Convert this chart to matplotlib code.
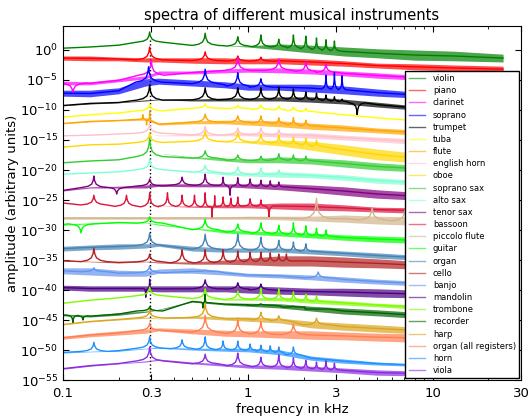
import numpy as np
import matplotlib
matplotlib.use("Agg")
import matplotlib.pyplot as plt
from matplotlib.ticker import NullLocator, NullFormatter

freq = [0.1, 0.14, 0.2, 0.28, 0.33, 0.5, 0.75, 1.0, 1.5, 2.2, 3.3, 5.0, 8.0, 13.0, 24.0]
fundamental = 0.2937  # D4

# log10 amplitude: lower edge (lo) / upper edge (hi) of each trace,
# pk = narrow peaks and dips as (kHz, log10 amplitude)
violin_lo = [0.3, 0.5, 0.8, 1.3, 1.3, 0.8, 0.7, 0.5, 0.0, -0.5, -1.0, -1.3, -1.7, -1.8, -2.0]
violin_hi = [0.3, 0.5, 0.8, 1.3, 1.3, 0.8, 0.7, 0.7, 1.0, 0.8, 0.5, 0.2, 0.0, -0.2, -0.7]
violin_pk = [(0.294, 3.0), (0.587, 2.8), (0.881, 2.2), (1.175, 2.5), (1.468, 1.8), (1.762, 2.5),
             (2.056, 2.3), (2.349, 2.0), (2.643, 1.7), (2.937, 1.5)]

piano_lo = [-1.7, -1.8, -1.8, -2.0, -2.0, -2.2, -2.3, -2.3, -2.3, -2.5, -2.7, -3.0, -3.3, -3.5, -3.7]
piano_hi = [-1.0, -1.0, -1.2, -1.3, -1.3, -1.3, -1.3, -1.5, -1.3, -1.5, -1.8, -2.2, -2.3, -2.5, -2.7]
piano_pk = [(0.294, 0.5), (0.587, -0.3), (0.881, -1.0), (1.175, -1.2)]

clarinet_lo = [-5.8, -5.8, -5.3, -4.8, -4.0, -4.0, -3.8, -3.7, -3.8, -4.0, -4.3, -4.7, -5.0, -5.3, -5.7]
clarinet_hi = [-5.2, -5.3, -4.8, -4.3, -3.5, -3.5, -3.2, -3.0, -3.0, -3.2, -3.5, -3.8, -4.2, -4.5, -4.8]
clarinet_pk = [(0.113, -7.2), (0.30, -1.7), (0.881, -1.3), (1.468, -1.5), (2.056, -2.0), (2.643, -2.3)]

soprano_lo = [-7.7, -7.8, -7.3, -6.0, -5.7, -6.0, -6.3, -6.7, -6.7, -7.0, -7.3, -7.7, -8.0, -8.3, -8.7]
soprano_hi = [-6.7, -6.7, -6.3, -4.8, -4.7, -5.0, -5.3, -5.7, -5.7, -5.7, -6.0, -6.5, -7.0, -7.3, -7.7]
soprano_pk = [(0.29, -2.8), (0.587, -3.2), (0.881, -3.8), (1.175, -4.8), (2.643, -4.2), (2.937, -3.8),
              (3.23, -4.3)]

trumpet_lo = [-9.3, -9.0, -8.8, -8.5, -8.3, -8.5, -8.5, -8.5, -8.5, -8.7, -9.0, -9.5, -10.0, -10.3, -10.7]
trumpet_hi = [-9.2, -8.8, -8.7, -8.3, -8.2, -8.2, -8.0, -8.0, -7.8, -7.8, -8.2, -8.7, -9.3, -9.7, -10.0]
trumpet_pk = [(0.294, -5.8), (0.587, -6.3), (0.881, -6.3), (1.175, -6.3), (1.468, -6.2), (1.762, -6.5),
              (2.056, -7.0), (2.349, -7.2), (2.643, -7.5), (2.937, -7.8), (3.23, -8.2), (3.9, -10.8)]

tuba_lo = [-11.2, -10.8, -10.5, -10.2, -10.0, -9.7, -9.7, -9.8, -10.0, -10.3, -10.8, -11.3, -11.8, -12.2, -12.5]
tuba_hi = tuba_lo
tuba_pk = [(0.294, -9.0), (0.587, -9.0), (0.881, -9.2), (1.175, -9.2), (1.468, -9.3), (1.762, -9.5),
           (2.056, -9.7)]

flute_lo = [-12.3, -12.0, -11.8, -11.7, -12.5, -12.3, -12.3, -12.5, -12.8, -13.2, -13.5, -13.8, -14.2, -14.5, -14.8]
flute_hi = [-12.2, -11.8, -11.7, -11.3, -12.2, -11.8, -11.7, -11.7, -11.8, -12.2, -12.5, -13.0, -13.3, -13.7, -14.0]
flute_pk = [(0.27, -10.8), (0.283, -12.5), (0.294, -10.2), (0.587, -10.7), (0.881, -11.0), (1.175, -11.0),
            (1.468, -11.3), (1.762, -11.3), (2.056, -11.7)]

ehorn_lo = [-14.3, -14.2, -14.0, -13.7, -14.3, -14.3, -14.3, -14.3, -14.5, -14.7, -15.0, -15.3, -15.7, -16.0, -16.3]
ehorn_hi = [-14.3, -14.2, -14.0, -13.7, -14.2, -14.0, -14.0, -13.8, -13.8, -13.8, -14.2, -14.5, -14.8, -15.2, -15.5]
ehorn_pk = [(0.294, -12.3), (0.587, -12.7), (0.881, -13.0), (1.175, -13.0), (1.468, -13.3)]

oboe_lo = [-16.2, -15.8, -15.7, -15.5, -15.2, -15.2, -15.3, -15.5, -16.0, -16.7, -17.5, -18.3, -18.8, -19.2, -19.5]
oboe_hi = [-16.2, -15.8, -15.7, -15.5, -15.2, -15.2, -15.2, -15.2, -15.0, -15.2, -15.8, -16.5, -17.2, -17.5, -17.8]
oboe_pk = [(0.294, -13.8), (0.587, -13.5), (0.881, -13.7), (1.175, -14.0), (1.468, -14.2), (1.762, -14.5),
           (2.056, -14.7), (2.349, -15.0)]

ssax_lo = [-18.8, -18.5, -18.3, -18.0, -17.2, -18.0, -18.5, -18.8, -18.8, -19.0, -19.5, -20.0, -20.3, -20.7, -21.0]
ssax_hi = [-18.8, -18.5, -18.3, -18.0, -17.2, -17.8, -18.0, -18.2, -17.8, -18.0, -18.3, -18.8, -19.2, -19.5, -19.8]
ssax_pk = [(0.294, -14.7), (0.587, -16.8), (0.881, -17.5), (1.175, -17.7), (1.468, -17.3), (1.762, -17.5),
           (2.056, -17.7)]

asax_lo = [-20.7, -20.5, -20.3, -20.0, -19.8, -20.3, -20.8, -21.0, -21.2, -21.3, -21.7, -22.2, -22.5, -22.8, -23.2]
asax_hi = [-20.7, -20.5, -20.3, -20.0, -19.8, -20.2, -20.3, -20.5, -20.3, -20.5, -20.8, -21.3, -21.7, -22.0, -22.3]
asax_pk = [(0.294, -18.2), (0.587, -19.2), (0.881, -19.5), (1.175, -19.7), (1.468, -20.0)]

tsax_lo = [-23.5, -23.0, -23.0, -23.0, -22.7, -22.8, -22.8, -23.0, -23.3, -23.7, -24.2, -24.7, -25.0, -25.3, -25.7]
tsax_hi = [-23.3, -22.8, -22.7, -22.5, -22.3, -22.3, -22.3, -22.3, -22.3, -22.5, -22.8, -23.3, -23.7, -24.0, -24.3]
tsax_pk = [(0.1468, -21.0), (0.195, -24.0), (0.294, -21.5), (0.4405, -21.2), (0.587, -20.7), (0.734, -21.2),
           (0.80, -24.2), (0.881, -21.3), (1.028, -21.5), (1.175, -21.7), (1.321, -21.8), (1.468, -22.0)]

bassoon_lo = [-25.5, -25.8, -26.0, -26.2, -26.0, -26.2, -26.3, -26.3, -26.5, -26.7, -26.8, -27.0, -27.2, -27.2, -27.3]
bassoon_hi = [-25.5, -25.8, -26.0, -26.2, -26.0, -26.0, -25.8, -25.7, -25.5, -25.5, -25.8, -26.2, -26.3, -26.5, -26.7]
bassoon_pk = [(0.1468, -24.2), (0.2203, -24.2), (0.294, -23.8), (0.367, -23.8), (0.4405, -24.2), (0.514, -24.2),
              (0.587, -23.8), (0.64, -28.0), (0.661, -24.3), (0.734, -24.5), (0.808, -24.7), (0.881, -24.5),
              (1.028, -24.8), (1.175, -25.0), (1.30, -27.8)]

piccolo_lo = [-28.2, -28.2, -28.2, -28.2, -28.2, -28.2, -28.2, -28.2, -28.3, -28.5, -28.7, -29.0, -29.2, -29.3, -29.5]
piccolo_hi = [-27.8, -27.8, -27.8, -27.8, -27.8, -27.8, -27.8, -27.7, -27.7, -27.7, -27.5, -27.7, -27.8, -28.0, -28.2]
piccolo_pk = [(2.349, -24.7), (4.698, -26.2), (7.05, -26.7)]

guitar_lo = [-29.2, -29.0, -28.8, -28.8, -29.2, -29.8, -30.5, -30.7, -31.0, -31.3, -31.7, -32.0, -32.2, -32.3, -32.5]
guitar_hi = [-29.0, -28.8, -28.7, -28.7, -29.0, -29.7, -30.0, -30.2, -30.3, -30.5, -30.8, -31.0, -31.2, -31.3, -31.5]
guitar_pk = [(0.125, -30.5), (0.294, -27.8), (0.587, -28.2), (0.881, -29.0), (1.175, -28.8), (1.468, -29.2),
             (1.762, -28.8), (2.056, -29.3), (2.349, -29.7), (2.643, -30.0)]

organ_lo = [-33.5, -33.3, -33.2, -33.0, -32.7, -33.5, -33.7, -33.7, -33.7, -34.0, -34.3, -34.7, -35.0, -35.2, -35.3]
organ_hi = [-32.7, -32.5, -32.3, -32.3, -32.2, -32.7, -33.0, -33.0, -33.0, -33.2, -33.5, -33.8, -34.2, -34.3, -34.5]
organ_pk = [(0.294, -30.5), (0.587, -30.7), (0.881, -30.7), (1.175, -31.2), (1.468, -31.7), (1.762, -32.0),
            (2.056, -32.3)]

cello_lo = [-35.2, -35.3, -35.5, -35.3, -35.5, -35.7, -35.7, -35.8, -36.0, -36.0, -36.2, -36.3, -36.5, -36.7, -36.8]
cello_hi = [-35.0, -35.2, -35.3, -35.2, -35.3, -35.3, -35.0, -34.7, -34.3, -34.3, -34.5, -34.8, -35.2, -35.3, -35.5]
cello_pk = [(0.1468, -33.0), (0.294, -34.0), (0.4405, -33.3), (0.587, -33.3), (0.734, -33.3), (0.881, -33.5),
            (1.028, -33.7), (1.175, -33.7), (1.321, -33.8), (1.468, -34.0), (1.615, -34.0)]

banjo_lo = [-37.3, -37.5, -37.7, -37.7, -37.2, -37.2, -37.5, -37.8, -38.0, -38.3, -38.7, -39.0, -39.3, -39.5, -39.7]
banjo_hi = [-36.3, -36.3, -36.7, -36.8, -36.5, -36.3, -36.8, -37.2, -37.3, -37.5, -37.8, -38.2, -38.5, -38.7, -38.8]
banjo_pk = [(0.1468, -36.3), (0.294, -36.0), (0.587, -36.7), (2.4, -37.0)]

mandolin_lo = [-40.0, -40.2, -40.2, -40.2, -40.3, -40.3, -40.3, -40.5, -40.7, -40.8, -41.0, -41.2, -41.3, -41.5, -41.7]
mandolin_hi = [-39.2, -39.3, -39.3, -39.3, -39.3, -39.3, -39.3, -39.3, -39.5, -39.7, -39.7, -39.8, -40.0, -40.2, -40.3]
mandolin_pk = [(0.28, -41.2), (0.294, -38.2), (0.587, -38.3), (0.881, -38.8), (1.175, -39.0)]

trombone_lo = [-42.2, -41.7, -41.3, -41.0, -40.8, -41.3, -41.7, -41.7, -41.8, -42.2, -42.5, -42.8, -43.2, -43.5, -43.7]
trombone_hi = [-42.2, -41.7, -41.3, -41.0, -40.8, -41.3, -41.5, -41.3, -41.2, -41.5, -41.8, -42.2, -42.5, -42.8, -43.0]
trombone_pk = [(0.294, -39.5), (0.587, -39.8), (0.881, -40.2), (1.175, -39.7), (1.468, -39.8), (1.762, -40.3),
               (2.056, -40.7), (2.349, -41.0)]

recorder_lo = [-44.3, -44.5, -44.2, -43.7, -43.3, -42.0, -42.5, -42.7, -43.0, -43.5, -44.0, -44.3, -44.7, -45.0, -45.3]
recorder_hi = [-44.0, -44.2, -43.8, -43.5, -43.2, -41.8, -42.2, -42.2, -42.3, -42.7, -43.0, -43.3, -43.7, -44.0, -44.3]
recorder_pk = [(0.113, -45.5), (0.128, -45.0), (0.294, -42.8), (0.57, -43.0), (0.587, -40.7), (1.175, -42.3),
               (1.762, -42.7), (2.349, -43.2)]

harp_lo = [-45.8, -45.3, -45.0, -44.7, -44.8, -44.7, -45.0, -45.2, -45.5, -46.3, -46.7, -47.0, -47.3, -47.5, -47.7]
harp_hi = [-45.7, -45.2, -44.8, -44.5, -44.7, -44.3, -44.5, -44.5, -44.7, -45.2, -45.5, -45.8, -46.2, -46.3, -46.5]
harp_pk = [(0.294, -43.3), (0.587, -42.2), (0.881, -44.7), (1.175, -43.7), (1.468, -44.3), (2.349, -44.7)]

organall_lo = [-48.2, -47.8, -47.5, -47.2, -46.8, -47.3, -47.7, -47.8, -48.0, -48.2, -48.3, -48.5, -48.7, -48.8, -49.0]
organall_hi = [-47.7, -47.2, -46.8, -46.5, -46.3, -46.5, -46.7, -46.8, -46.8, -46.8, -47.0, -47.2, -47.3, -47.5, -47.7]
organall_pk = [(0.294, -45.5), (0.587, -44.2), (0.881, -45.0), (1.175, -45.3), (1.762, -45.7)]

horn_lo = [-50.5, -50.3, -50.2, -49.8, -49.7, -50.0, -50.2, -50.3, -50.8, -51.7, -52.2, -52.5, -52.7, -52.8, -53.0]
horn_hi = [-50.3, -50.2, -50.0, -49.7, -49.5, -49.7, -49.7, -49.7, -50.0, -51.0, -51.5, -52.0, -52.3, -52.5, -52.7]
horn_pk = [(0.1468, -48.7), (0.294, -47.8), (0.4405, -48.3), (0.587, -47.8), (0.734, -48.5), (0.881, -48.5),
           (1.028, -49.0), (1.175, -49.2), (1.321, -49.3), (1.468, -49.5), (1.762, -49.5)]

viola_lo = [-53.2, -52.7, -52.3, -52.0, -51.7, -52.3, -52.7, -53.0, -53.2, -53.5, -53.8, -54.2, -54.3, -54.5, -54.7]
viola_hi = [-53.0, -52.5, -52.2, -51.8, -51.5, -52.0, -52.3, -52.5, -52.5, -52.7, -53.0, -53.3, -53.5, -53.7, -53.8]
viola_pk = [(0.294, -49.5), (0.587, -50.7), (0.881, -50.5), (1.175, -51.2), (1.468, -50.8), (1.762, -51.3),
            (2.056, -51.7), (2.349, -52.0), (2.643, -51.8), (2.937, -52.2)]

traces = [
    ("violin", "green", violin_lo, violin_hi, violin_pk),
    ("piano", "red", piano_lo, piano_hi, piano_pk),
    ("clarinet", "magenta", clarinet_lo, clarinet_hi, clarinet_pk),
    ("soprano", "blue", soprano_lo, soprano_hi, soprano_pk),
    ("trumpet", "black", trumpet_lo, trumpet_hi, trumpet_pk),
    ("tuba", "yellow", tuba_lo, tuba_hi, tuba_pk),
    ("flute", "orange", flute_lo, flute_hi, flute_pk),
    ("english horn", "pink", ehorn_lo, ehorn_hi, ehorn_pk),
    ("oboe", "gold", oboe_lo, oboe_hi, oboe_pk),
    ("soprano sax", "limegreen", ssax_lo, ssax_hi, ssax_pk),
    ("alto sax", "aquamarine", asax_lo, asax_hi, asax_pk),
    ("tenor sax", "purple", tsax_lo, tsax_hi, tsax_pk),
    ("bassoon", "crimson", bassoon_lo, bassoon_hi, bassoon_pk),
    ("piccolo flute", "tan", piccolo_lo, piccolo_hi, piccolo_pk),
    ("guitar", "lime", guitar_lo, guitar_hi, guitar_pk),
    ("organ", "steelblue", organ_lo, organ_hi, organ_pk),
    ("cello", "firebrick", cello_lo, cello_hi, cello_pk),
    ("banjo", "cornflowerblue", banjo_lo, banjo_hi, banjo_pk),
    ("mandolin", "indigo", mandolin_lo, mandolin_hi, mandolin_pk),
    ("trombone", "lawngreen", trombone_lo, trombone_hi, trombone_pk),
    ("recorder", "darkgreen", recorder_lo, recorder_hi, recorder_pk),
    ("harp", "goldenrod", harp_lo, harp_hi, harp_pk),
    ("organ (all registers)", "coral", organall_lo, organall_hi, organall_pk),
    ("horn", "dodgerblue", horn_lo, horn_hi, horn_pk),
    ("viola", "blueviolet", viola_lo, viola_hi, viola_pk),
]

fig = plt.figure(figsize=(5.3, 4.19), dpi=100)
ax = fig.add_axes([0.119, 0.093, 0.864, 0.845])

ax.axvline(fundamental, ymax=0.96, color="k", ls=":", lw=1, zorder=0)

lf = np.log10(freq)
# cusp outline of one peak: offsets in units of its half-width, fraction of its rise
shape_off = [-1.0, -0.5, -0.2, -0.06, 0.0, 0.06, 0.2, 0.5, 1.0]
shape_rise = [0.0, 0.1, 0.28, 0.6, 1.0, 0.6, 0.28, 0.1, 0.0]
for name, color, lo, hi, pk in traces:
    mid = (np.array(lo) + np.array(hi)) / 2
    pf = np.log10([p[0] for p in pk])
    xs, ys = [], []
    keep = np.ones(len(freq), bool)
    for i, (f, top) in enumerate(pk):
        gaps = np.abs(pf - pf[i])
        gaps = gaps[gaps > 0]
        w = min(0.07, 0.5 * gaps.min()) if len(gaps) else 0.07
        c = np.log10(f)
        b = np.interp(c, lf, mid)
        for o, r in zip(shape_off, shape_rise):
            xs.append(c + o * w)
            ys.append(b + r * (top - b))
        keep &= np.abs(lf - c) > w
    xs += list(lf[keep])
    ys += list(mid[keep])
    order = np.argsort(xs, kind="stable")
    ax.plot(10.0 ** np.array(xs)[order], 10.0 ** np.array(ys)[order], color=color, lw=1, label=name)
    ax.fill_between(freq, 10.0 ** np.array(lo), 10.0 ** np.array(hi), color=color, lw=0, alpha=0.7)

ax.set_xscale("log")
ax.set_yscale("log")
ax.set_xlim(0.1, 30)
ax.set_ylim(1e-55, 1e4)

ax.set_xticks([0.1, 0.3, 1, 3, 10, 30])
ax.set_xticklabels(["0.1", "0.3", "1", "3", "10", "30"])
ax.xaxis.set_minor_formatter(NullFormatter())
yt = list(range(-55, 1, 5))
ax.set_yticks([10.0 ** k for k in yt])
ax.set_yticklabels([r"$\mathdefault{10^{%d}}$" % k for k in yt])
ax.yaxis.set_minor_locator(NullLocator())
ax.tick_params(which="both", direction="in", top=True, right=True, labelsize=9.5)
ax.tick_params(axis="x", pad=5)
ax.tick_params(which="major", length=4)
ax.tick_params(which="minor", length=2)

ax.set_xlabel("frequency in kHz", fontsize=9.5, labelpad=2)
ax.set_ylabel("amplitude (arbitrary units)", fontsize=9.5, labelpad=1)
ax.set_title("spectra of different musical instruments", fontsize=10.5, pad=4)

leg = ax.legend(loc="lower right", fontsize=6, fancybox=False, edgecolor="black",
                framealpha=1, borderaxespad=0.2, labelspacing=0.38, handlelength=2.0,
                handletextpad=0.9)
for h in leg.get_lines():
    h.set_alpha(0.6)
leg.get_frame().set_linewidth(1)

fig.savefig("out.png", dpi=100)
